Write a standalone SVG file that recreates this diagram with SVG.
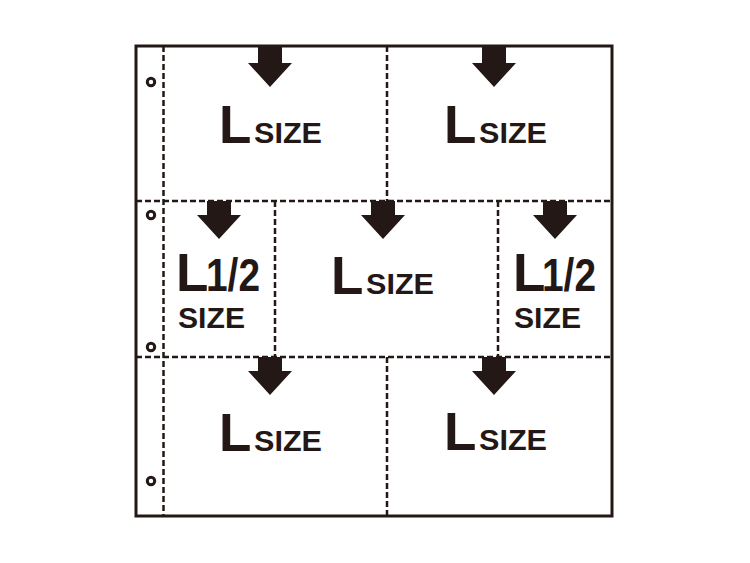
<svg xmlns="http://www.w3.org/2000/svg" width="750" height="563" viewBox="0 0 750 563">
<style>
.frame{fill:none;stroke:#231815;stroke-width:3}
.dash{fill:none;stroke:#231815;stroke-width:2.5;stroke-dasharray:6 3}
.hole{fill:none;stroke:#231815;stroke-width:3}
.arrow{fill:#231815}
.t{font-family:"Liberation Sans",Arial,sans-serif;font-weight:bold;fill:#231815}
.big{font-size:53px}
.half{font-size:46px}
.small{font-size:29px}
</style>
<defs>
<path id="arr" d="M-12,0 H12 V17 H22 L0,41 L-22,17 H-12 Z"/>
<path id="arr2" d="M-12,0 H12 V14 H22 L0,38 L-22,14 H-12 Z"/>
</defs>
<rect width="750" height="563" fill="#ffffff"/>
<g id="sheet">
<rect class="frame" x="136" y="46" width="476" height="470"/>
<circle class="hole" cx="151" cy="82" r="3.7"/>
<circle class="hole" cx="151" cy="215" r="3.7"/>
<circle class="hole" cx="151" cy="347" r="3.7"/>
<circle class="hole" cx="151" cy="481" r="3.7"/>
</g>
<g id="connectors">
<line class="dash" x1="163.5" y1="46" x2="163.5" y2="516"/>
<line class="dash" x1="136" y1="201" x2="612" y2="201"/>
<line class="dash" x1="136" y1="357" x2="612" y2="357"/>
<line class="dash" x1="387" y1="46" x2="387" y2="201"/>
<line class="dash" x1="275" y1="201" x2="275" y2="357"/>
<line class="dash" x1="498" y1="201" x2="498" y2="357"/>
<line class="dash" x1="387" y1="357" x2="387" y2="516"/>
</g>
<g id="node-top-left">
<use href="#arr" class="arrow" x="270" y="46"/>
<text class="t big" x="219" y="143">L</text>
<text class="t small" x="254" y="143" textLength="68" lengthAdjust="spacingAndGlyphs">SIZE</text>
</g>
<g id="node-top-right">
<use href="#arr" class="arrow" x="494" y="46"/>
<text class="t big" x="444" y="143">L</text>
<text class="t small" x="479" y="143" textLength="68" lengthAdjust="spacingAndGlyphs">SIZE</text>
</g>
<g id="node-mid-left">
<use href="#arr2" class="arrow" x="219" y="201"/>
<text class="t big" x="176" y="291">L</text>
<text class="t half" x="206" y="291" textLength="54" lengthAdjust="spacingAndGlyphs">1/2</text>
<text class="t small" x="178" y="328" textLength="67" lengthAdjust="spacingAndGlyphs">SIZE</text>
</g>
<g id="node-mid-center">
<use href="#arr2" class="arrow" x="383" y="201"/>
<text class="t big" x="331" y="294">L</text>
<text class="t small" x="366" y="294" textLength="68" lengthAdjust="spacingAndGlyphs">SIZE</text>
</g>
<g id="node-mid-right">
<use href="#arr2" class="arrow" x="555" y="201"/>
<text class="t big" x="513" y="291">L</text>
<text class="t half" x="542" y="291" textLength="54" lengthAdjust="spacingAndGlyphs">1/2</text>
<text class="t small" x="514" y="328" textLength="67" lengthAdjust="spacingAndGlyphs">SIZE</text>
</g>
<g id="node-bottom-left">
<use href="#arr2" class="arrow" x="270" y="357"/>
<text class="t big" x="219" y="451">L</text>
<text class="t small" x="254" y="451" textLength="68" lengthAdjust="spacingAndGlyphs">SIZE</text>
</g>
<g id="node-bottom-right">
<use href="#arr2" class="arrow" x="494" y="357"/>
<text class="t big" x="444" y="450">L</text>
<text class="t small" x="479" y="450" textLength="68" lengthAdjust="spacingAndGlyphs">SIZE</text>
</g>
</svg>
